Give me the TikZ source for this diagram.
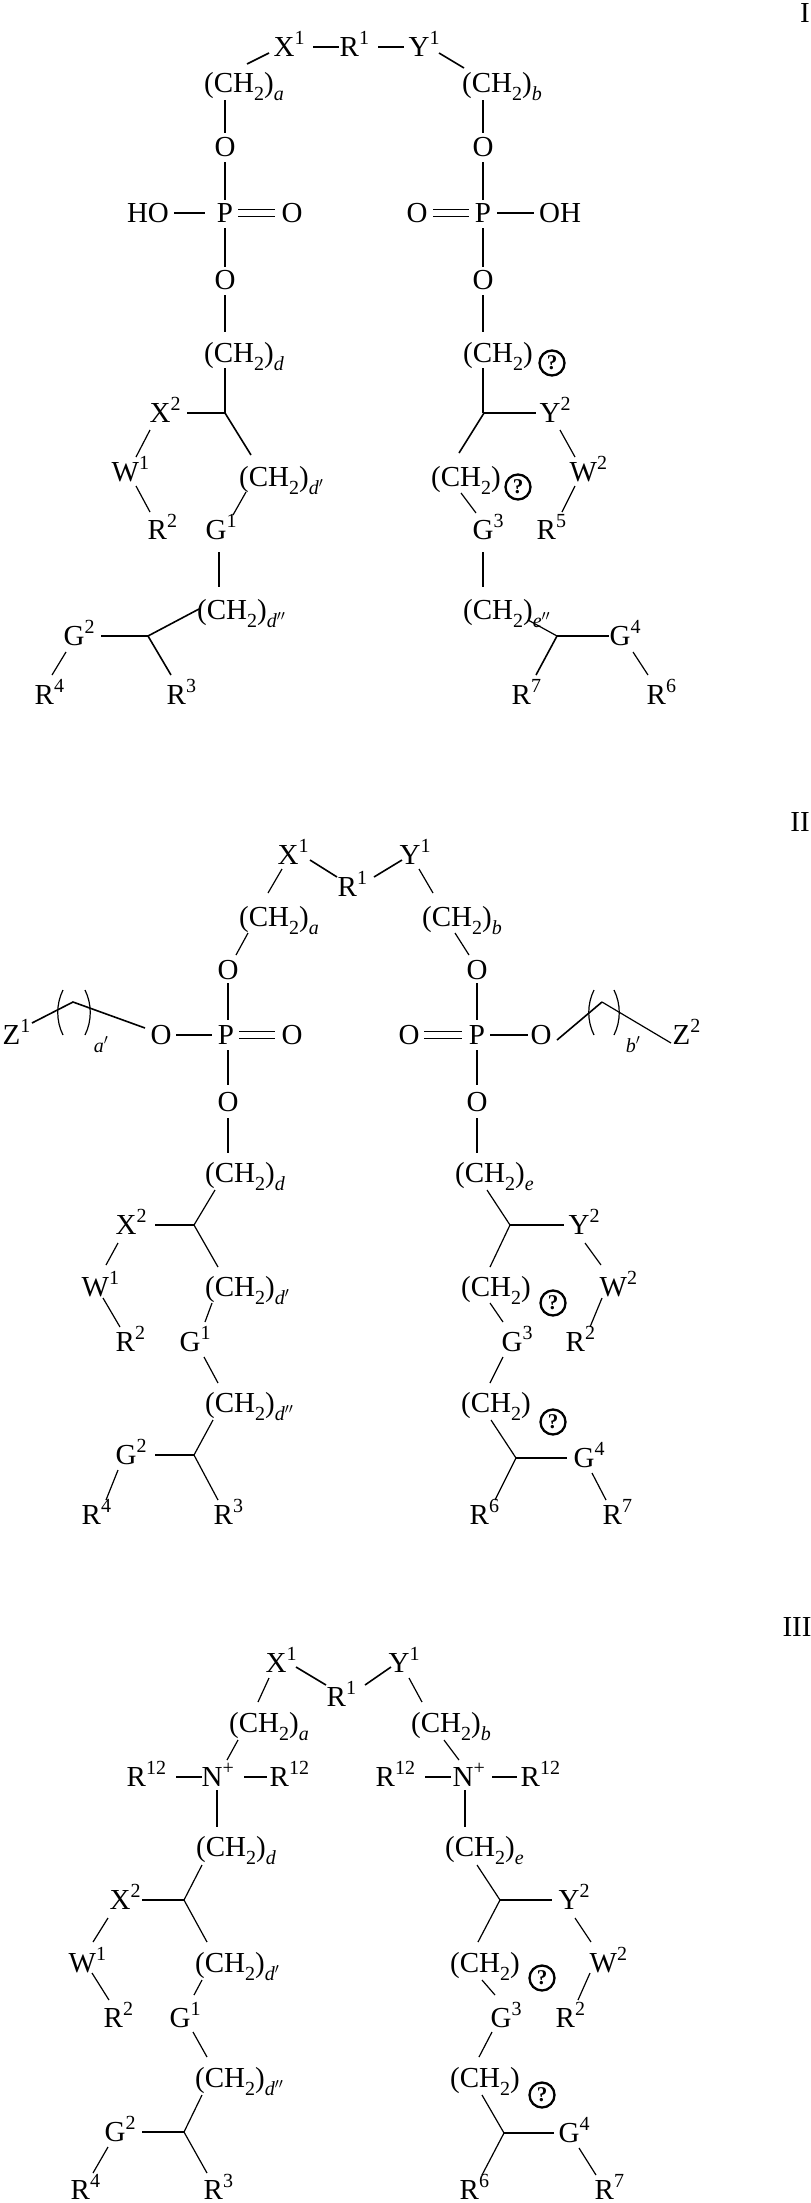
\documentclass[tikz,border=0pt]{standalone}
\usepackage{fontspec}
\setmainfont{Liberation Serif}
\newcounter{nc}
\newcommand\Sup[1]{\raisebox{0.42em}{\fontsize{20}{20}\selectfont #1}}
\newcommand\Sub[1]{\raisebox{-0.28em}{\fontsize{20}{20}\selectfont #1}}
\newcommand\CHH[1]{(CH\Sub{2})\Sub{\textit{#1}}}
\newcommand\Lb[3]{\stepcounter{nc}\node[lab,anchor=base west] (n\arabic{nc}) at (#1-10.5,#2+9.5) {#3};}
\newcommand\Cb[3]{\stepcounter{nc}\node[lab,anchor=base] (n\arabic{nc}) at (#1,#2+9.5) {#3};}
\newcommand\Eb[3]{\stepcounter{nc}\node[lab,anchor=base west] (n\arabic{nc}) at (#1-2,#2+9.5) {#3};}
\newcommand\Qm[2]{\stepcounter{nc}\node[qm] (n\arabic{nc}) at (#1,#2) {?};}
\newcommand\Dbl[3]{\draw[bond] (#1,#3-3.5) -- (#2,#3-3.5); \draw[bond] (#1,#3+3.5) -- (#2,#3+3.5);}
\newcommand\Lp[2]{\draw[thin bond] (#1+3,#2) .. controls (#1-4,#2+14) and (#1-4,#2+31) .. (#1+3,#2+45);}
\newcommand\Rp[2]{\draw[thin bond] (#1-3,#2) .. controls (#1+4,#2+14) and (#1+4,#2+31) .. (#1-3,#2+45);}
\begin{document}
\begin{tikzpicture}[x=1pt,y=-1pt,
  lab/.style={inner sep=0pt,font=\fontsize{29}{29}\selectfont},
  bond/.style={line width=1.6pt},
  thin bond/.style={line width=1.2pt},
  qm/.style={circle,draw,line width=2.3pt,inner sep=0pt,minimum width=22pt,minimum height=25pt,font=\bfseries\fontsize{21}{21}\selectfont}]
\useasboundingbox (0,0) rectangle (811,2203);
% ================= I =================
\Cb{805}{13}{I}
\Lb{284}{47}{X\Sup{1}} \Lb{350}{47}{R\Sup{1}} \Lb{419}{47}{Y\Sup{1}}
\Eb{206}{83}{\CHH{a}} \Eb{464}{83}{\CHH{b}}
\Cb{225}{147}{O} \Cb{483}{147}{O}
\Cb{148}{213}{HO} \Cb{225}{213}{P} \Cb{292}{213}{O}
\Cb{417}{213}{O} \Cb{483}{213}{P} \Cb{560}{213}{OH}
\Cb{225}{280}{O} \Cb{483}{280}{O}
\Eb{206}{353}{\CHH{d}} \Eb{465}{353}{(CH\Sub{2})} \Qm{552}{363}
\Lb{160}{413}{X\Sup{2}} \Lb{122}{472}{W\Sup{1}} \Lb{158}{530}{R\Sup{2}}
\Eb{241}{477}{\CHH{d$'$}} \Lb{216}{530}{G\Sup{1}} \Eb{199}{610}{\CHH{d$''$}}
\Lb{74}{636}{G\Sup{2}} \Lb{45}{695}{R\Sup{4}} \Lb{177}{695}{R\Sup{3}}
\Lb{550}{413}{Y\Sup{2}} \Eb{433}{477}{(CH\Sub{2})} \Qm{518}{487}
\Lb{580}{472}{W\Sup{2}} \Lb{547}{530}{R\Sup{5}} \Lb{483}{530}{G\Sup{3}}
\Eb{465}{610}{\CHH{e$''$}} \Lb{620}{636}{G\Sup{4}} \Lb{522}{695}{R\Sup{7}} \Lb{657}{695}{R\Sup{6}}
\draw[bond] (247,64)--(269,53); \draw[bond] (313,47)--(339,47); \draw[bond] (378,47)--(404,47); \draw[bond] (439,53)--(464,68);
\draw[bond] (225,100)--(225,133); \draw[bond] (483,100)--(483,133);
\draw[bond] (225,162)--(225,200); \draw[bond] (483,162)--(483,200);
\draw[bond] (174,213)--(205,213); \Dbl{238}{275}{213} \Dbl{433}{469}{213} \draw[bond] (497,213)--(534,213);
\draw[bond] (225,228)--(225,267); \draw[bond] (483,228)--(483,267);
\draw[bond] (225,295)--(225,332); \draw[bond] (483,295)--(483,332);
\draw[bond] (225,368)--(225,413); \draw[bond] (483,368)--(483,413);
\draw[bond] (187,413)--(225,413); \draw[bond] (225,413)--(251,455);
\draw[thin bond] (150,430)--(136,457); \draw[thin bond] (136,486)--(150,512);
\draw[thin bond] (246,492)--(233,515); \draw[thin bond] (219,552)--(219,587);
\draw[bond] (199,609)--(148,636); \draw[bond] (101,636)--(148,636); \draw[bond] (148,636)--(171,675); \draw[thin bond] (66,652)--(52,675);
\draw[bond] (484,413)--(536,413); \draw[bond] (484,413)--(459,453);
\draw[thin bond] (560,430)--(575,457); \draw[thin bond] (575,486)--(562,512);
\draw[thin bond] (461,493)--(476,513); \draw[thin bond] (483,552)--(483,587);
\draw[thin bond] (528,620)--(557,636); \draw[bond] (557,636)--(609,636); \draw[bond] (557,636)--(536,675); \draw[thin bond] (633,652)--(648,675);
% ================= II =================
\Cb{800}{822}{II}
\Lb{288}{855}{X\Sup{1}} \Lb{410}{855}{Y\Sup{1}} \Lb{348}{887}{R\Sup{1}}
\Eb{241}{917}{\CHH{a}} \Eb{424}{917}{\CHH{b}}
\Cb{228}{970}{O} \Cb{477}{970}{O}
\Lb{13}{1035}{Z\Sup{1}} \Cb{101}{1043}{\fontsize{20}{20}\selectfont\textit{a}$'$}
\Cb{161}{1035}{O} \Cb{226}{1035}{P} \Cb{292}{1035}{O}
\Cb{409}{1035}{O} \Cb{477}{1035}{P} \Cb{541}{1035}{O}
\Cb{633}{1043}{\fontsize{20}{20}\selectfont\textit{b}$'$} \Lb{683}{1035}{Z\Sup{2}}
\Cb{228}{1102}{O} \Cb{477}{1102}{O}
\Eb{207}{1173}{\CHH{d}} \Eb{457}{1173}{\CHH{e}}
\Lb{126}{1225}{X\Sup{2}} \Lb{92}{1287}{W\Sup{1}} \Eb{207}{1287}{\CHH{d$'$}}
\Lb{126}{1342}{R\Sup{2}} \Lb{190}{1342}{G\Sup{1}} \Eb{207}{1403}{\CHH{d$''$}}
\Lb{126}{1455}{G\Sup{2}} \Lb{92}{1515}{R\Sup{4}} \Lb{224}{1515}{R\Sup{3}}
\Lb{579}{1225}{Y\Sup{2}} \Eb{463}{1287}{(CH\Sub{2})} \Qm{553}{1303}
\Lb{610}{1287}{W\Sup{2}} \Lb{576}{1342}{R\Sup{2}} \Lb{512}{1342}{G\Sup{3}}
\Eb{463}{1403}{(CH\Sub{2})} \Qm{553}{1422}
\Lb{584}{1458}{G\Sup{4}} \Lb{480}{1515}{R\Sup{6}} \Lb{613}{1515}{R\Sup{7}}
\draw[bond] (310,860)--(337,877); \draw[bond] (374,877)--(402,860);
\draw[thin bond] (282,869)--(268,893); \draw[thin bond] (419,869)--(433,893);
\draw[thin bond] (248,933)--(236,955); \draw[thin bond] (455,933)--(469,955);
\draw[thin bond] (228,983)--(228,1020); \draw[thin bond] (477,983)--(477,1020);
\draw[bond] (32,1023)--(73,1002)--(145,1028); \Lp{60}{990} \Rp{88}{990}
\draw[bond] (176,1035)--(212,1035); \Dbl{239}{275}{1035} \Dbl{424}{462}{1035} \draw[bond] (490,1035)--(528,1035);
\draw[bond] (557,1040)--(602,1002); \draw[thin bond] (602,1002)--(671,1043); \Lp{591}{990} \Rp{617}{990}
\draw[thin bond] (228,1050)--(228,1085); \draw[thin bond] (477,1050)--(477,1085);
\draw[thin bond] (228,1118)--(228,1153); \draw[thin bond] (477,1118)--(477,1153);
\draw[thin bond] (215,1190)--(194,1225); \draw[bond] (155,1225)--(194,1225); \draw[thin bond] (194,1225)--(218,1267);
\draw[thin bond] (118,1243)--(106,1265); \draw[thin bond] (103,1298)--(120,1327);
\draw[thin bond] (212,1303)--(205,1322); \draw[thin bond] (204,1357)--(218,1383);
\draw[thin bond] (213,1420)--(194,1455); \draw[bond] (155,1455)--(194,1455); \draw[thin bond] (194,1455)--(218,1500); \draw[thin bond] (118,1470)--(106,1500);
\draw[thin bond] (487,1190)--(510,1225); \draw[bond] (510,1225)--(564,1225); \draw[thin bond] (510,1225)--(490,1267);
\draw[thin bond] (585,1243)--(601,1265); \draw[thin bond] (602,1298)--(590,1327);
\draw[thin bond] (490,1303)--(503,1322); \draw[thin bond] (503,1357)--(490,1383);
\draw[thin bond] (491,1420)--(516,1458); \draw[bond] (516,1458)--(567,1458); \draw[thin bond] (516,1458)--(495,1500); \draw[thin bond] (592,1473)--(606,1500);
% ================= III =================
\Cb{797}{1627}{III}
\Lb{276}{1663}{X\Sup{1}} \Lb{399}{1663}{Y\Sup{1}} \Lb{337}{1697}{R\Sup{1}}
\Eb{231}{1723}{\CHH{a}} \Eb{413}{1723}{\CHH{b}}
\Lb{137}{1777}{R\Sup{12}} \Lb{212}{1777}{N\Sup{+}} \Lb{280}{1777}{R\Sup{12}}
\Lb{386}{1777}{R\Sup{12}} \Lb{463}{1777}{N\Sup{+}} \Lb{531}{1777}{R\Sup{12}}
\Eb{198}{1847}{\CHH{d}} \Eb{447}{1847}{\CHH{e}}
\Lb{120}{1900}{X\Sup{2}} \Lb{79}{1963}{W\Sup{1}} \Eb{197}{1963}{\CHH{d$'$}}
\Lb{114}{2018}{R\Sup{2}} \Lb{180}{2018}{G\Sup{1}} \Eb{197}{2078}{\CHH{d$''$}}
\Lb{115}{2132}{G\Sup{2}} \Lb{81}{2190}{R\Sup{4}} \Lb{214}{2190}{R\Sup{3}}
\Lb{569}{1900}{Y\Sup{2}} \Eb{452}{1963}{(CH\Sub{2})} \Qm{542}{1978}
\Lb{600}{1963}{W\Sup{2}} \Lb{566}{2018}{R\Sup{2}} \Lb{501}{2018}{G\Sup{3}}
\Eb{452}{2078}{(CH\Sub{2})} \Qm{542}{2095}
\Lb{569}{2133}{G\Sup{4}} \Lb{470}{2190}{R\Sup{6}} \Lb{605}{2190}{R\Sup{7}}
\draw[bond] (296,1667)--(326,1685); \draw[bond] (365,1685)--(391,1667);
\draw[thin bond] (269,1678)--(258,1702); \draw[thin bond] (409,1678)--(422,1702);
\draw[thin bond] (238,1740)--(227,1760); \draw[thin bond] (444,1740)--(459,1760);
\draw[bond] (176,1777)--(202,1777); \draw[bond] (244,1777)--(267,1777);
\draw[bond] (425,1777)--(451,1777); \draw[bond] (492,1777)--(517,1777);
\draw[thin bond] (217,1790)--(217,1827); \draw[thin bond] (465,1790)--(465,1827);
\draw[thin bond] (202,1865)--(184,1900); \draw[bond] (142,1900)--(184,1900); \draw[thin bond] (184,1900)--(207,1942);
\draw[thin bond] (108,1918)--(93,1942); \draw[thin bond] (92,1973)--(109,2000);
\draw[thin bond] (202,1980)--(194,1995); \draw[thin bond] (193,2032)--(207,2057);
\draw[thin bond] (202,2095)--(184,2132); \draw[bond] (142,2132)--(184,2132); \draw[thin bond] (184,2132)--(207,2173); \draw[thin bond] (108,2147)--(93,2173);
\draw[thin bond] (477,1865)--(500,1900); \draw[bond] (500,1900)--(552,1900); \draw[thin bond] (500,1900)--(478,1942);
\draw[thin bond] (575,1918)--(591,1942); \draw[thin bond] (590,1973)--(578,2000);
\draw[thin bond] (482,1980)--(495,1995); \draw[thin bond] (492,2032)--(479,2057);
\draw[thin bond] (482,2095)--(504,2133); \draw[bond] (504,2133)--(554,2133); \draw[thin bond] (504,2133)--(482,2175); \draw[thin bond] (579,2148)--(596,2175);
\end{tikzpicture}
\end{document}
